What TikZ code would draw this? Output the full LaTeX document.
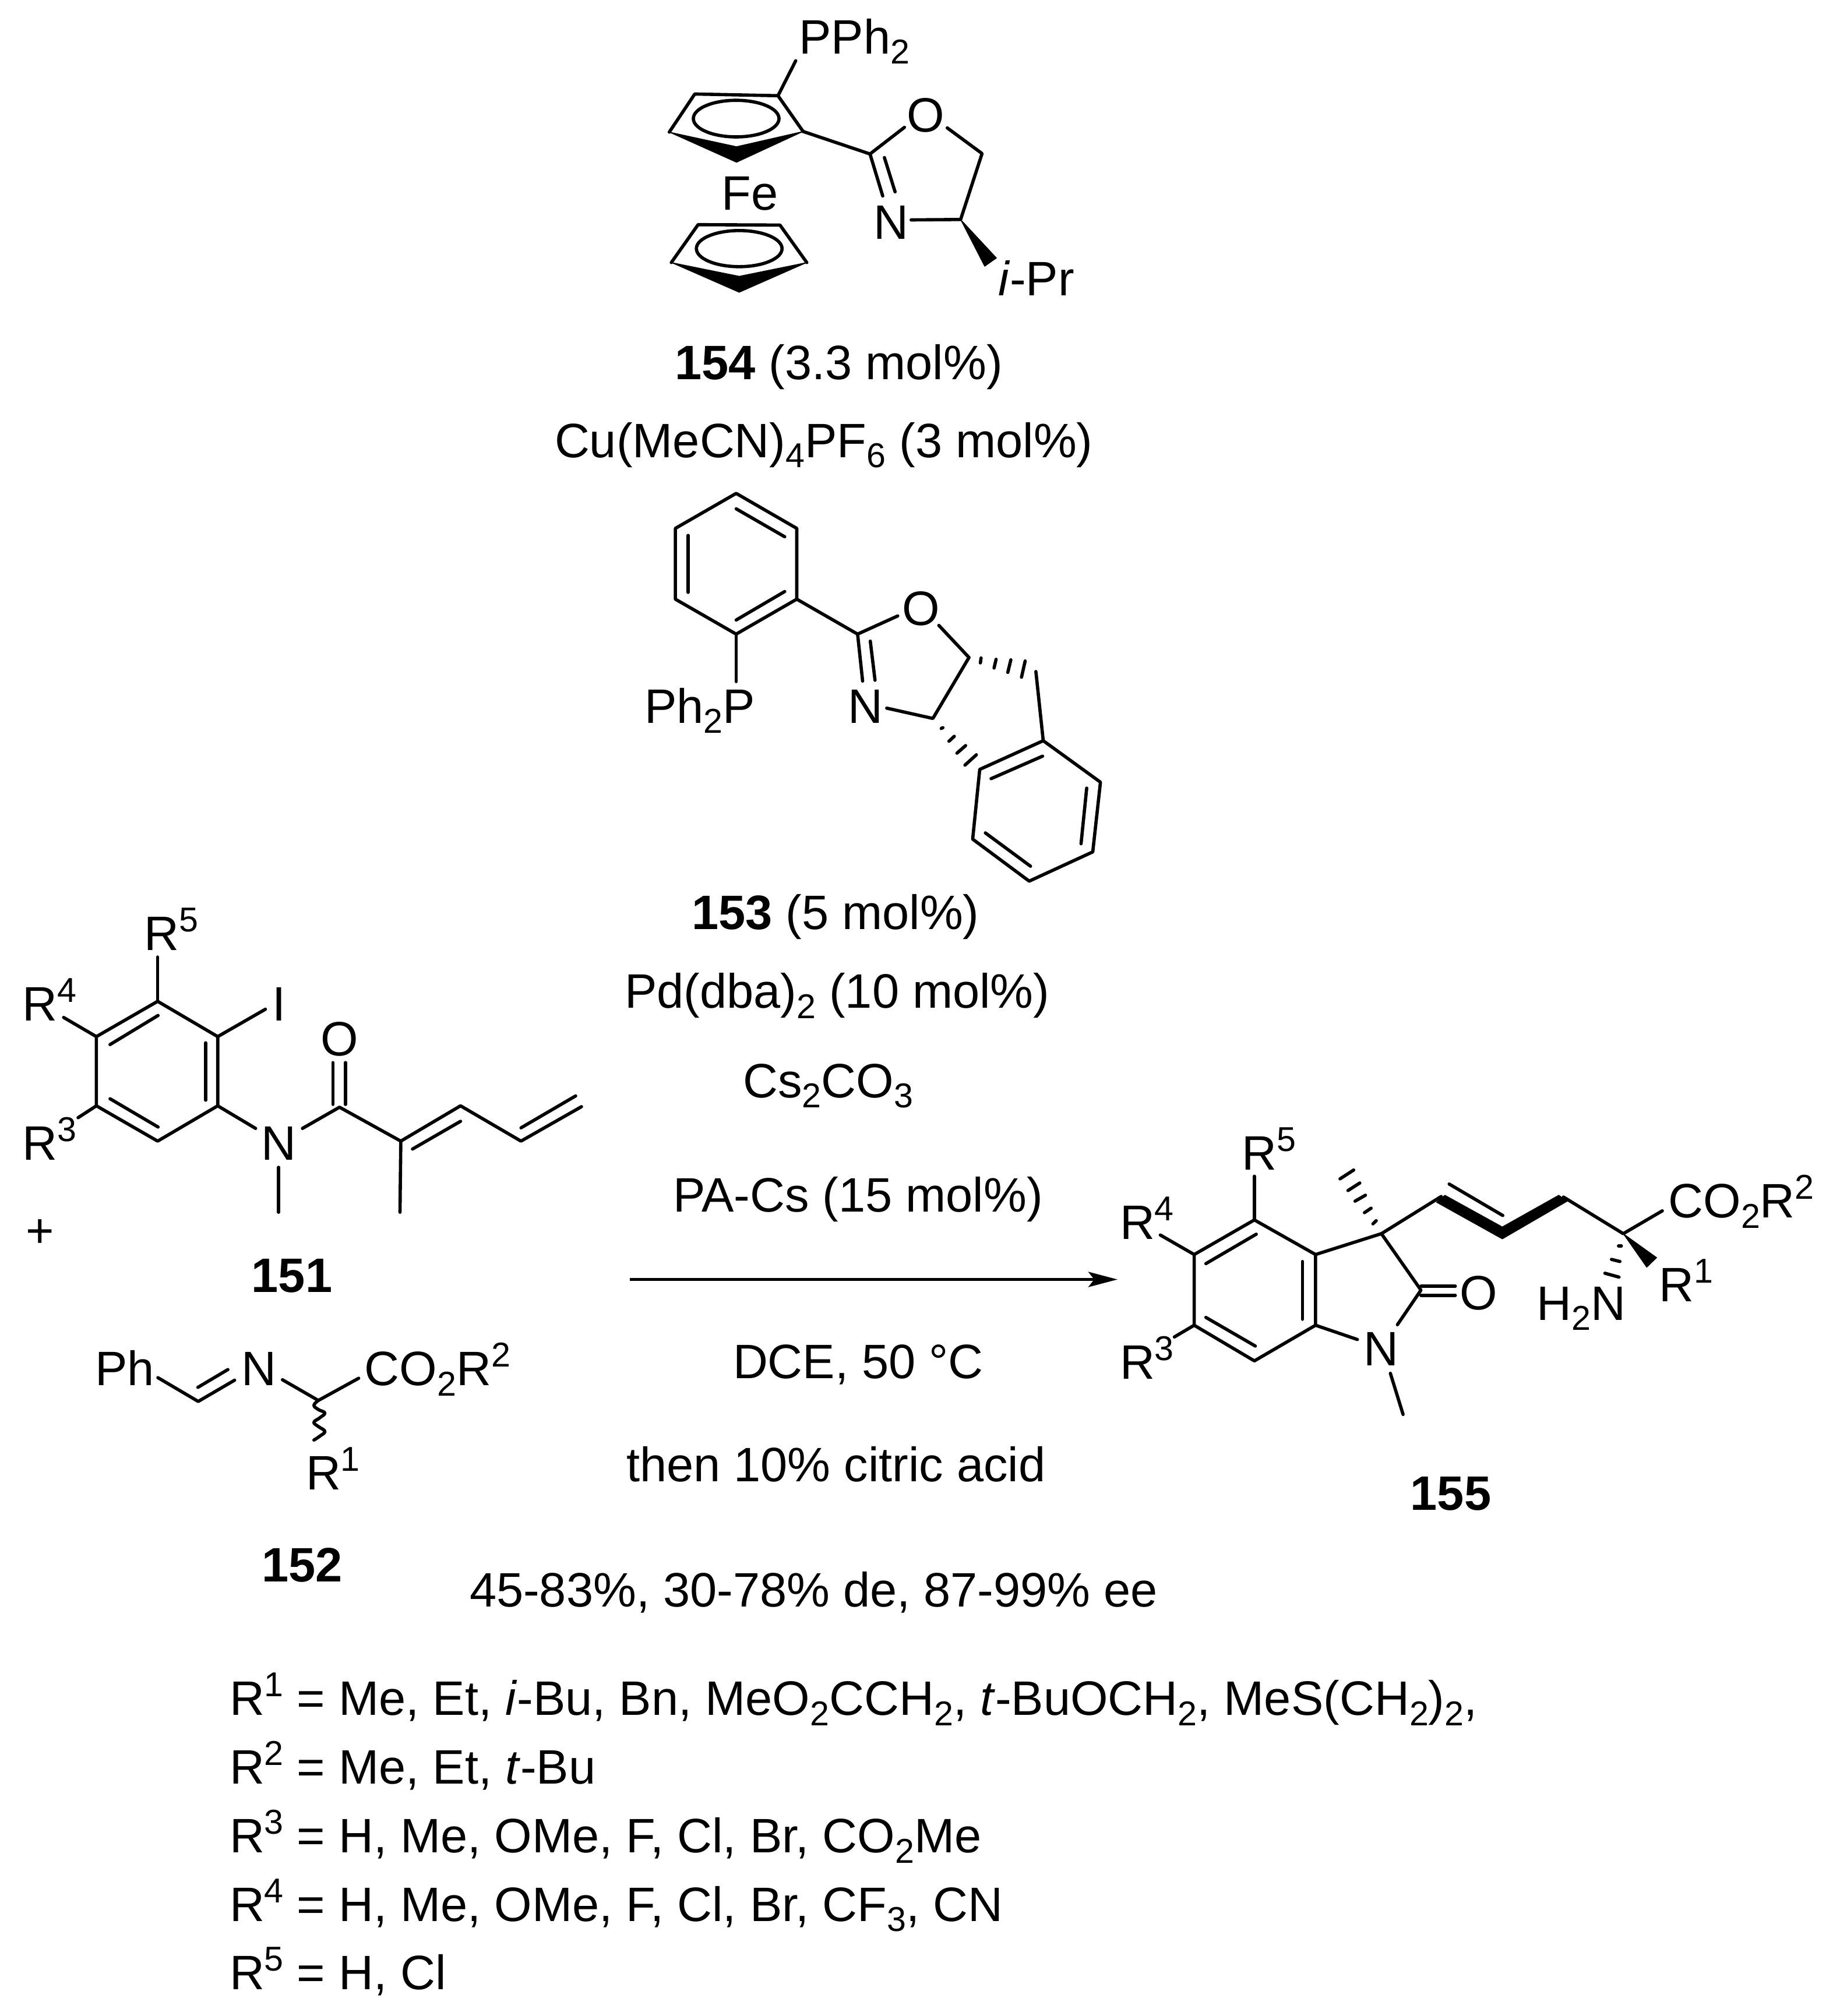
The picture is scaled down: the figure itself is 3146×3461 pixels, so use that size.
\documentclass[tikz,border=0pt]{standalone}
\usepackage{fontspec}
\setmainfont{Liberation Sans}
\usetikzlibrary{arrows.meta}
\newcommand\lsub[1]{\raisebox{-4.4pt}{\fontsize{14.8}{15}\selectfont #1}}
\newcommand\lsup[1]{\raisebox{8pt}{\fontsize{14.8}{15}\selectfont #1}}
\tikzset{
  lab/.style={inner sep=0pt,outer sep=0pt,font=\fontsize{20.75}{24}\selectfont,anchor=base west,text=black},
  cen/.style={lab,anchor=base},
  bond/.style={line width=1.4pt,line cap=round,line join=round,draw=black},
  solid fill/.style={fill=black,draw=black,line width=0.3pt,line join=round},
  hashb/.style={line width=1.4pt,line cap=round,draw=black},
  rxn/.style={line width=1.25pt,draw=black,-{Stealth[length=12.5pt,width=6.5pt,inset=2.5pt]}}
}
\begin{document}
\begin{tikzpicture}[x=0.25pt,y=-0.25pt]
\useasboundingbox (0,0) rectangle (3146,3461);
\fill[white] (0,0) rectangle (3146,3461);

%% ---- ligand 154 ----
\coordinate (uA) at (1148.7,226.8);
\coordinate (uB) at (1192.4,161.4);
\coordinate (uC) at (1335.3,164.3);
\coordinate (uD) at (1378.4,225.7);
\coordinate (uE) at (1264.1,278.6);
\coordinate (uF) at (1264.1,251.8);
\draw[bond] (uA) -- (uB) -- (uC) -- (uD);
\fill[solid fill] (uA) -- (uF) -- (uD) -- (uE) -- cycle;
\draw[bond] (1263.5,203.6) ellipse [x radius=73.5,y radius=31.4];
\coordinate (lG) at (1152.2,450.7);
\coordinate (lH) at (1198.1,385.7);
\coordinate (lI) at (1338.7,386.4);
\coordinate (lJ) at (1384.7,450.7);
\coordinate (lK) at (1268.7,501.8);
\coordinate (lL) at (1268.7,474.3);
\draw[bond] (lG) -- (lH) -- (lI) -- (lJ);
\fill[solid fill] (lG) -- (lL) -- (lJ) -- (lK) -- cycle;
\draw[bond] (1268.7,426.8) ellipse [x radius=73.5,y radius=31];
\node[lab] (pph) at (1371.5,92) {PPh\lsub{2}};
\node[lab] (fe) at (1238.3,360.7) {Fe};
\node[cen] (oa) at (1588.5,226.8) {O};
\node[cen] (na) at (1529.3,410.7) {N};
\node[lab] (ipr) at (1713,507.9) {\textit{i}-Pr};
\coordinate (pb) at (1365.7,104.3);
\coordinate (c2a) at (1493.2,264.3);
\coordinate (oae) at (1552.3,218.6);
\coordinate (oas) at (1625.8,219.6);
\coordinate (c5a) at (1685.5,263.6);
\coordinate (c4a) at (1648.7,376.8);
\coordinate (nae) at (1563.8,377.5);
\coordinate (nad) at (1515,336.4);
\coordinate (wa1) at (1710.2,442.9);
\coordinate (wa2) at (1690,457.1);
\draw[bond] (uC) -- (pb);
\draw[bond] (uD) -- (c2a) -- (oae);
\draw[bond] (oas) -- (c5a) -- (c4a) -- (nae);
\draw[bond] (c2a) -- (nad);
\draw[bond] (1517.9,270.4) -- (1536.2,329.3);
\fill[solid fill] (c4a) -- (wa1) -- (wa2) -- cycle;
\node[lab] (n154) at (1158,651.7) {\textbf{154} (3.3 mol\%)};
\node[lab] (cu) at (952,785) {Cu(MeCN)\lsub{4}PF\lsub{6} (3 mol\%)};

%% ---- ligand 153 ----
\coordinate (ba) at (1263.5,847);
\coordinate (bb) at (1367.5,907.1);
\coordinate (bc) at (1367.5,1028.6);
\coordinate (bd) at (1263.5,1088.6);
\coordinate (be) at (1159.1,1028.6);
\coordinate (bf) at (1159.1,907.1);
\draw[bond] (ba) -- (bb) -- (bc) -- (bd) -- (be) -- (bf) -- cycle;
\draw[bond] (1263.5,873.5) -- (1346.8,921.5);
\draw[bond] (1180.9,919.2) -- (1180.9,1016.9);
\draw[bond] (1346.8,1015.5) -- (1263.5,1064.4);
\node[lab] (php) at (1106.3,1241.3) {Ph\lsub{2}P};
\node[cen] (ob) at (1581,1073.7) {O};
\node[cen] (nb) at (1485.1,1241.3) {N};
\coordinate (pbb) at (1263.5,1170.1);
\coordinate (c2b) at (1471.9,1088.6);
\coordinate (obe) at (1540.8,1057.4);
\coordinate (obs) at (1611.4,1073.7);
\coordinate (c5b) at (1663.1,1128.7);
\coordinate (c4b) at (1601.1,1233.4);
\coordinate (nbe) at (1521.9,1215.7);
\coordinate (nbd) at (1480.5,1169.2);
\coordinate (chb) at (1777.9,1152.9);
\coordinate (bg) at (1790.5,1271.6);
\coordinate (bh) at (1888.7,1342.8);
\coordinate (bi) at (1875.5,1462.5);
\coordinate (bj) at (1766.4,1512.7);
\coordinate (bk) at (1669.4,1440.6);
\coordinate (bl) at (1681.5,1320.9);
\draw[bond] (bd) -- (pbb);
\draw[bond] (bc) -- (c2b) -- (obe);
\draw[bond] (obs) -- (c5b) -- (c4b) -- (nbe);
\draw[bond] (c2b) -- (nbd);
\draw[bond] (1493.7,1100.7) -- (1501.8,1167.8);
\draw[bond] (chb) -- (bg);
\draw[bond] (bg) -- (bh) -- (bi) -- (bj) -- (bk) -- (bl) -- cycle;
\draw[bond] (1789.4,1298.1) -- (1701,1336.8);
\draw[bond] (1865.1,1353) -- (1855.4,1448.5);
\draw[bond] (1768.7,1487.1) -- (1691.2,1429.9);
\draw[hashb] (1683.8,1129.6) -- (1682.6,1138);
\draw[hashb] (1709.6,1131.9) -- (1706.1,1146.8);
\draw[hashb] (1734.9,1132.8) -- (1729.7,1154.3);
\draw[hashb] (1759.5,1134.7) -- (1753.2,1162.6);
\draw[hashb] (1615.4,1250.6) -- (1618.3,1249.2);
\draw[hashb] (1628.7,1272.5) -- (1637.8,1264.1);
\draw[hashb] (1642.4,1293) -- (1657.3,1280);
\draw[hashb] (1656.2,1313.5) -- (1675.7,1295.8);
\node[lab] (n153) at (1187,1595) {\textbf{153} (5 mol\%)};
\node[lab] (pd) at (1072,1730.5) {Pd(dba)\lsub{2} (10 mol\%)};
\node[lab] (cs) at (1275.5,1884) {Cs\lsub{2}CO\lsub{3}};
\node[lab] (pa) at (1155,2080) {PA-Cs (15 mol\%)};
\node[lab] (dce) at (1258,2366.5) {DCE, 50 °C};
\node[lab] (then) at (1075,2543) {then 10\% citric acid};
\node[lab] (yld) at (806,2758.7) {45-83\%, 30-78\% de, 87-99\% ee};

%% ---- arrow ----
\coordinate (ars) at (1081,2196.5);
\coordinate (are) at (1918,2196.5);
\draw[rxn] (ars) -- (are);

%% ---- substrate 151 ----
\coordinate (ra) at (270.6,1719);
\coordinate (rb) at (373.7,1779.6);
\coordinate (rc) at (373.7,1898.4);
\coordinate (rd) at (270.6,1959);
\coordinate (re) at (165.4,1898.4);
\coordinate (rf) at (165.4,1779.6);
\draw[bond] (ra) -- (rb) -- (rc) -- (rd) -- (re) -- (rf) -- cycle;
\draw[bond] (271.3,1743.3) -- (188.9,1793.2);
\draw[bond] (353,1790.3) -- (353,1888.7);
\draw[bond] (271.3,1934.8) -- (188.9,1886.3);
\node[lab] (r5a) at (247.8,1631.8) {R\lsup{5}};
\node[lab] (r4a) at (38.8,1752) {R\lsup{4}};
\node[lab] (r3a) at (38.8,1991.5) {R\lsup{3}};
\node[cen] (ia) at (478.9,1752) {I};
\node[cen] (nc) at (478.9,1991.5) {N};
\node[cen] (oc) at (582.7,1812.6) {O};
\coordinate (r5e) at (270.6,1643);
\coordinate (r4e) at (109.2,1746.7);
\coordinate (r3e) at (134,1918.8);
\coordinate (ie) at (455.5,1732.6);
\coordinate (ncl) at (438.7,1937.2);
\coordinate (ncr) at (519.1,1937.2);
\coordinate (cco) at (582.7,1900.8);
\coordinate (ncm) at (478.2,2004);
\coordinate (nme) at (478.2,2081.1);
\coordinate (d1) at (687.9,1959);
\coordinate (d2) at (790.4,1898.4);
\coordinate (d3) at (894.2,1959);
\coordinate (d4) at (998,1899.9);
\coordinate (dme) at (686.5,2081.1);
\draw[bond] (ra) -- (r5e);
\draw[bond] (rf) -- (r4e);
\draw[bond] (re) -- (r3e);
\draw[bond] (rb) -- (ie);
\draw[bond] (rc) -- (ncl);
\draw[bond] (ncr) -- (cco) -- (d1) -- (d2) -- (d3) -- (d4);
\draw[bond] (ncm) -- (nme);
\draw[bond] (d1) -- (dme);
\draw[bond] (571.3,1896) -- (571.3,1824.2);
\draw[bond] (592.8,1896) -- (592.8,1824.2);
\draw[bond] (708,1972.6) -- (790.4,1925);
\draw[bond] (894.2,1936.2) -- (988,1881.4);
\node[cen] (plus) at (68.3,2141) {+};
\node[cen] (n151) at (501,2218.3) {\textbf{151}};

%% ---- substrate 152 ----
\node[lab] (ph) at (163.4,2378.7) {Ph};
\node[cen] (nd) at (444.4,2378.7) {N};
\node[lab] (co2a) at (625.9,2378.7) {CO\lsub{2}R\lsup{2}};
\node[lab] (r1a) at (525,2557.8) {R\lsup{1}};
\coordinate (e1) at (271,2365.1);
\coordinate (e2) at (340.2,2405.9);
\coordinate (e3) at (402.7,2369.4);
\coordinate (e4) at (484.8,2368.7);
\coordinate (e5) at (546.4,2404.2);
\coordinate (e6) at (615.6,2366.1);
\draw[bond] (e1) -- (e2) -- (e3);
\draw[bond] (339.7,2381.7) -- (391.1,2351.2);
\draw[bond] (e4) -- (e5) -- (e6);
\draw[bond] plot[smooth,tension=0.7] coordinates {(546.4,2404.2) (538.8,2412.5) (546.4,2419.8) (557.6,2425.8) (548.7,2434.1) (538.8,2441.7) (546.4,2449) (557.6,2457.3) (548.7,2465.6) (538.8,2472.2)};
\node[cen] (n152) at (518.5,2715) {\textbf{152}};

%% ---- product 155 ----
\coordinate (pa1) at (2152.9,2094.3);
\coordinate (pb1) at (2257.9,2153.7);
\coordinate (pc1) at (2257.9,2275.1);
\coordinate (pd1) at (2152.9,2336.3);
\coordinate (pe1) at (2049.6,2275.1);
\coordinate (pf1) at (2049.6,2153.7);
\draw[bond] (pa1) -- (pb1) -- (pc1) -- (pd1) -- (pe1) -- (pf1) -- cycle;
\draw[bond] (2156.1,2118.8) -- (2069.7,2169.3);
\draw[bond] (2235.3,2165.7) -- (2235.3,2264.8);
\draw[bond] (2154.5,2310.8) -- (2069.7,2261.7);
\node[lab] (r5b) at (2131.9,2008.1) {R\lsup{5}};
\node[lab] (r4b) at (1922,2127.8) {R\lsup{4}};
\node[lab] (r3b) at (1922,2367.5) {R\lsup{3}};
\node[cen] (np) at (2370.9,2344.3) {N};
\node[cen] (op) at (2538,2248.3) {O};
\node[lab] (co2b) at (2863.5,2090.7) {CO\lsub{2}R\lsup{2}};
\node[lab] (h2n) at (2637.4,2266.2) {H\lsub{2}N};
\node[lab] (r1b) at (2847.3,2234.9) {R\lsup{1}};
\coordinate (r5f) at (2152.9,2019.3);
\coordinate (r4f) at (1991.4,2120.2);
\coordinate (r3f) at (2015.6,2295.2);
\coordinate (c3p) at (2370.9,2117.9);
\coordinate (c2p) at (2438.8,2214.8);
\coordinate (npu) at (2398.4,2274.2);
\coordinate (npl) at (2329.7,2299.6);
\coordinate (npd) at (2386.3,2357.7);
\coordinate (npm) at (2408.1,2428.2);
\coordinate (v1) at (2473.5,2054.1);
\coordinate (v2) at (2683.4,2055);
\coordinate (cs) at (2786,2117.9);
\coordinate (cse) at (2853,2078.7);
\coordinate (w1) at (2843.3,2159);
\coordinate (w2) at (2826.3,2175.5);
\draw[bond] (pa1) -- (r5f);
\draw[bond] (pf1) -- (r4f);
\draw[bond] (pe1) -- (r3f);
\draw[bond] (pb1) -- (c3p) -- (c2p) -- (npu);
\draw[bond] (pc1) -- (npl);
\draw[bond] (npd) -- (npm);
\draw[bond] (2438.8,2208.1) -- (2497.7,2208.1);
\draw[bond] (2438.8,2223.8) -- (2497.7,2223.8);
\draw[bond] (c3p) -- (v1);
\fill[solid fill] (2479.9,2051.9) -- (2578.4,2106.3) -- (2675.3,2051.9) -- (2689.9,2062.1) -- (2578.4,2126.9) -- (2465.4,2063.9) -- cycle;
\draw[bond] (2487.2,2032.7) -- (2579.2,2086.7);
\draw[bond] (v2) -- (cs) -- (cse);
\fill[solid fill] (cs) -- (w1) -- (w2) -- cycle;
\draw[hashb] (2356.4,2101) -- (2362,2095.6);
\draw[hashb] (2341.8,2081.8) -- (2353.2,2074.2);
\draw[hashb] (2325.7,2062.1) -- (2343.5,2051.9);
\draw[hashb] (2313.6,2043.8) -- (2333.8,2030.9);
\draw[hashb] (2299.9,2023.8) -- (2323.3,2008.6);
\draw[hashb] (2777.9,2139) -- (2782.7,2139);
\draw[hashb] (2765.8,2162.1) -- (2780.3,2165.7);
\draw[hashb] (2754.5,2185.8) -- (2778.7,2192.5);
\node[cen] (n155) at (2490,2592) {\textbf{155}};

%% ---- R-group list ----
\node[lab] (l1) at (394,2944.7) {R\lsup{1} = Me, Et, \textit{i}-Bu, Bn, MeO\lsub{2}CCH\lsub{2}, \textit{t}-BuOCH\lsub{2}, MeS(CH\lsub{2})\lsub{2},};
\node[lab] (l2) at (394,3062.4) {R\lsup{2} = Me, Et, \textit{t}-Bu};
\node[lab] (l3) at (394,3180.5) {R\lsup{3} = H, Me, OMe, F, Cl, Br, CO\lsub{2}Me};
\node[lab] (l4) at (394,3298) {R\lsup{4} = H, Me, OMe, F, Cl, Br, CF\lsub{3}, CN};
\node[lab] (l5) at (394,3415.9) {R\lsup{5} = H, Cl};
\end{tikzpicture}
\end{document}
